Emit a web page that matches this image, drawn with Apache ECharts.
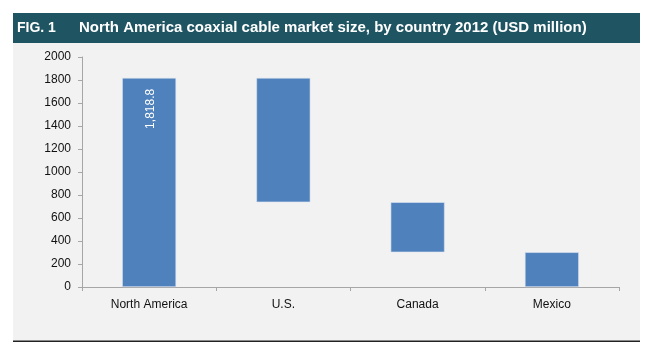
<!DOCTYPE html>
<html><head><meta charset="utf-8">
<script src="https://cdn.jsdelivr.net/npm/echarts@6/dist/echarts.min.js"></script>
<style>html,body{margin:0;padding:0;background:#fff}#c{width:650px;height:357px}</style>
</head><body><div id="c"></div>
<script>
const categories = ['North America', 'U.S.', 'Canada', 'Mexico'];
const values = [1818.8, 1081.8, 435, 302];
const totalLabel = ['1,818.8', '', '', ''];
const yTicks = [0, 200, 400, 600, 800, 1000, 1200, 1400, 1600, 1800, 2000];

// waterfall: first bar is total, others are decrements from the previous level
const base = [];
let level = values[0];
values.forEach((v, i) => {
  if (i === 0) { base.push(0); }
  else { level -= v; base.push(Math.max(level, 0)); }
});

const chart = echarts.init(document.getElementById('c'), null, {renderer: 'canvas'});
chart.setOption({
  animation: false,
  backgroundColor: '#ffffff',
  graphic: [
    {type: 'rect', shape: {x: 13, y: 43, width: 627, height: 298}, style: {fill: '#f2f2f2'}, z: -10},
    {type: 'rect', shape: {x: 13, y: 13, width: 627, height: 30}, style: {fill: '#1f5563'}, z: -10},
    {type: 'rect', shape: {x: 13, y: 340.5, width: 627, height: 1.6}, style: {fill: '#222'}, z: -10},
    {type: 'text', left: 17, top: 21, style: {text: 'FIG. 1', fill: '#fff', font: 'bold 14px "Liberation Sans", Arial, sans-serif'}},
    {type: 'text', left: 79, top: 20, style: {text: 'North America coaxial cable market size, by country 2012 (USD million)', fill: '#fff', font: 'bold 15px "Liberation Sans", Arial, sans-serif'}}
  ],
  grid: {left: 82, right: 31, top: 57, bottom: 70, containLabel: false},
  xAxis: {
    type: 'category', data: categories,
    axisLine: {lineStyle: {color: '#a6a6a6', width: 1}},
    axisTick: {show: true, length: 4, lineStyle: {color: '#a6a6a6'}},
    axisLabel: {color: '#111', fontSize: 12, fontFamily: '"Liberation Sans", Arial, sans-serif', margin: 12}
  },
  yAxis: {
    type: 'value', min: yTicks[0], max: yTicks[yTicks.length - 1], interval: 200,
    axisLine: {show: true, lineStyle: {color: '#a6a6a6', width: 1}},
    axisTick: {show: true, length: 4, lineStyle: {color: '#a6a6a6'}},
    splitLine: {show: false},
    axisLabel: {color: '#111', fontSize: 12, fontFamily: '"Liberation Sans", Arial, sans-serif', margin: 11,
      formatter: v => String(v)}
  },
  series: [
    {type: 'bar', stack: 'w', data: base, itemStyle: {color: 'transparent'}, barWidth: 54, silent: true},
    {type: 'bar', stack: 'w', data: values, barWidth: 54,
     itemStyle: {color: '#4f81bd', borderColor: '#dfe6f0', borderWidth: 0.6},
     label: {show: true, position: 'insideTop', rotate: 90, align: 'right', verticalAlign: 'middle', offset: [-6, 2],
       color: '#fff', fontSize: 12, fontFamily: '"Liberation Sans", Arial, sans-serif',
       formatter: p => totalLabel[p.dataIndex]}}
  ]
});
</script></body></html>
